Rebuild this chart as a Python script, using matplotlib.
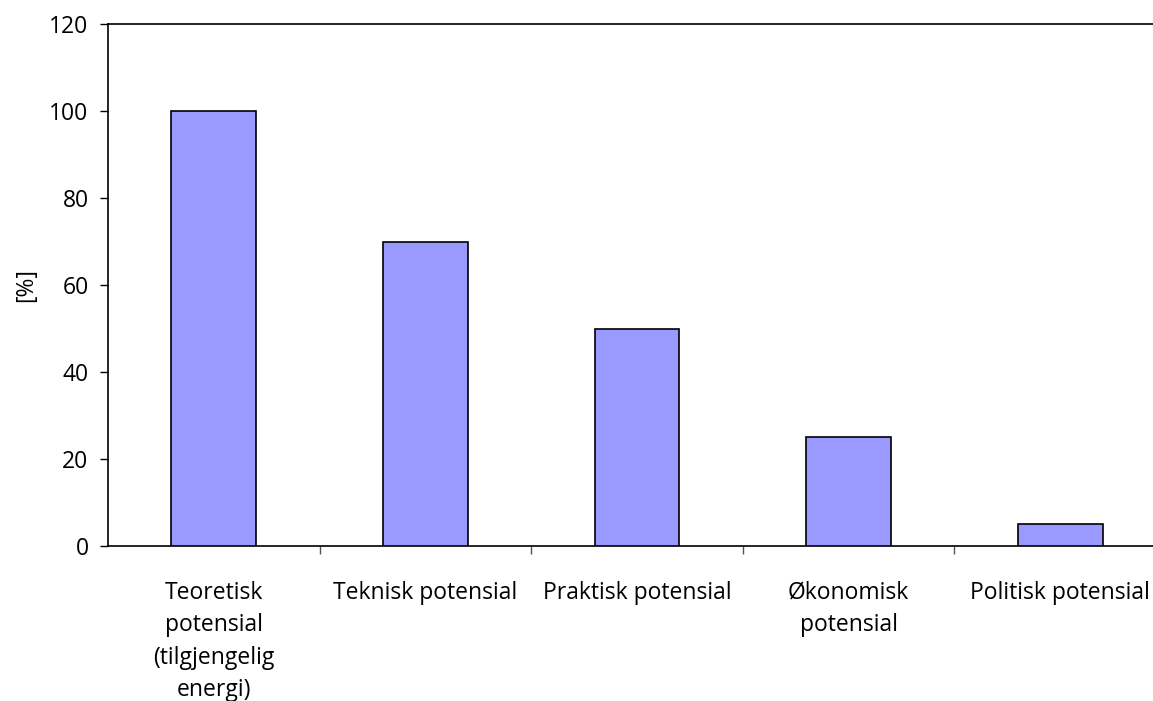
import matplotlib
matplotlib.use("Agg")
import matplotlib.pyplot as plt
import numpy as np

categories = [
    "Teoretisk\npotensial\n(tilgjengelig\nenergi)",
    "Teknisk potensial",
    "Praktisk potensial",
    "Økonomisk\npotensial",
    "Politisk potensial",
]
values = [100, 70, 50, 25, 5]
y_ticks = [0, 20, 40, 60, 80, 100, 120]

plt.rcParams["font.family"] = ["Open Sans", "DejaVu Sans"]

fig = plt.figure(figsize=(11.53, 7.01), dpi=100)
ax = fig.add_axes([108 / 1153, 155 / 701, 1058 / 1153, 522 / 701])

x = np.arange(len(categories))
ax.bar(x, values, width=0.4, color="#9999FF", edgecolor="black", linewidth=1.2, zorder=3)

ax.set_xlim(-0.5, len(categories) - 0.5)
ax.set_ylim(0, 120)
ax.set_yticks(y_ticks)
ax.tick_params(axis="y", labelsize=16.5, length=6, width=1, direction="out", pad=8)

ax.set_xticks(x)
ax.set_xticklabels(categories, fontsize=16.5, linespacing=1.47)
ax.tick_params(axis="x", which="major", length=0, pad=25)
ax.set_xticks(np.arange(len(categories)) + 0.5, minor=True)
ax.tick_params(axis="x", which="minor", length=6, width=1, color="#555555")

ax.set_ylabel("[%]", fontsize=16.5, labelpad=8)

for side in ("left", "top", "bottom"):
    ax.spines[side].set_linewidth(1.2)
ax.spines["right"].set_visible(False)

fig.savefig("out.png", dpi=100)
